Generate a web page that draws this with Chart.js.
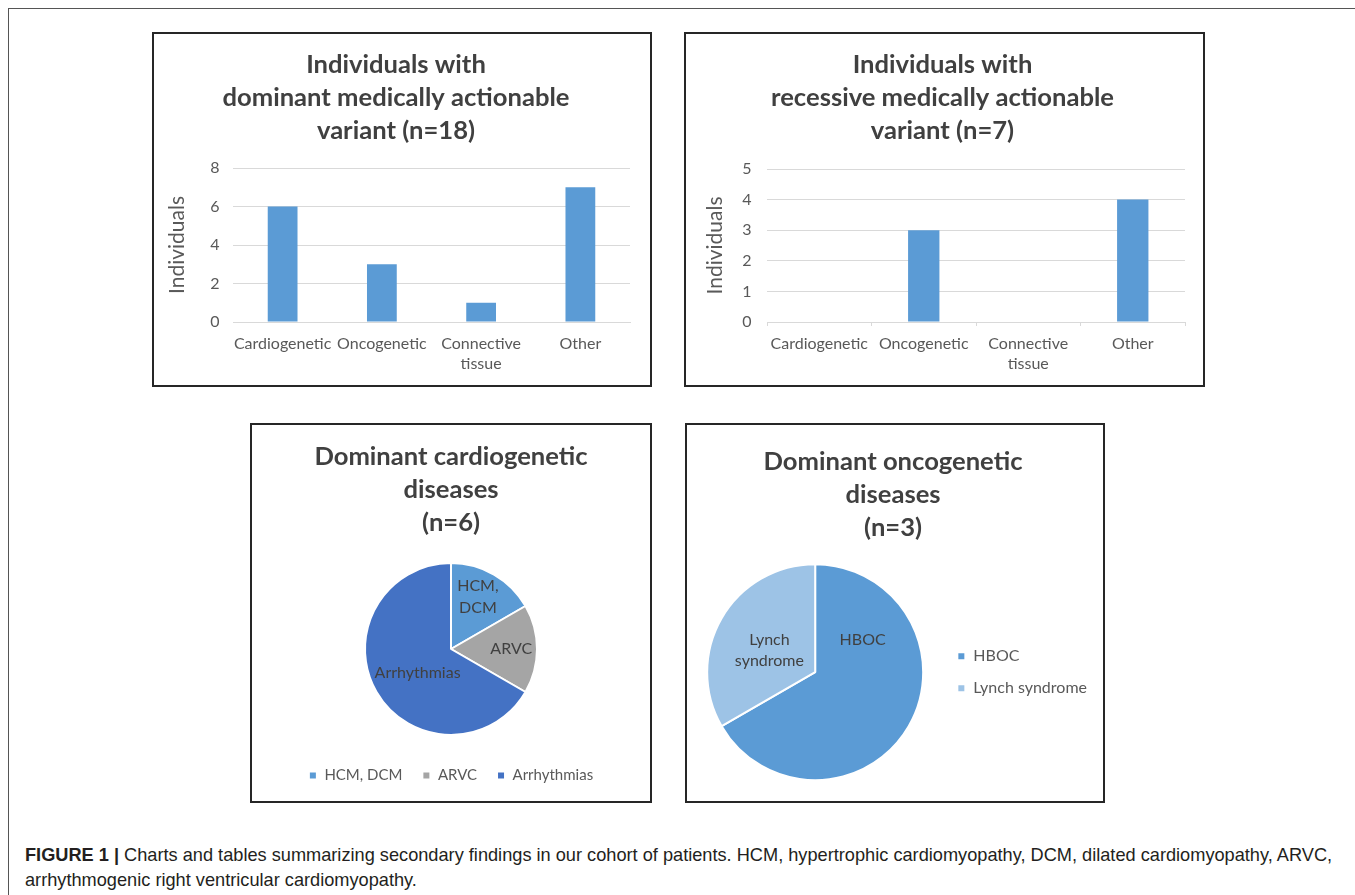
<!DOCTYPE html>
<html><head><meta charset="utf-8">
<script src="https://cdn.jsdelivr.net/npm/chart.js@4.4.1/dist/chart.umd.min.js"></script>
<style>
html,body{margin:0;padding:0;background:#fff;width:1355px;height:895px;overflow:hidden;}
#frame{position:absolute;left:8px;top:8px;width:1400px;height:950px;border-top:1px solid #555;border-left:1px solid #555;}
.panel{position:absolute;border:2px solid #262626;background:#fff;}
.panel canvas{display:block;}
#caption{position:absolute;left:25px;top:843px;font-family:"Liberation Sans",Arial,sans-serif;font-size:18.2px;line-height:25px;color:#231f20;white-space:nowrap;}
#caption b{font-weight:bold;}
</style></head><body>
<div id="frame"></div>
<div class="panel" style="left:152px;top:32px;width:496px;height:351px;"><canvas id="c1" width="496" height="351"></canvas></div>
<div class="panel" style="left:684px;top:32px;width:517px;height:351px;"><canvas id="c2" width="517" height="351"></canvas></div>
<div class="panel" style="left:250px;top:423px;width:398px;height:376px;"><canvas id="c3" width="398" height="376"></canvas></div>
<div class="panel" style="left:685px;top:423px;width:416px;height:376px;"><canvas id="c4" width="416" height="376"></canvas></div>
<div id="caption"><b>FIGURE 1 |</b> Charts and tables summarizing secondary findings in our cohort of patients. HCM, hypertrophic cardiomyopathy, DCM, dilated cardiomyopathy, ARVC,<br>arrhythmogenic right ventricular cardiomyopathy.</div>
<script>
// ---- data ----
const barCategories = [["Cardiogenetic"], ["Oncogenetic"], ["Connective", "tissue"], ["Other"]];
const dominantCounts = [6, 3, 1, 7];
const recessiveCounts = [0, 3, 0, 4];
const dominantYTicks = [0, 2, 4, 6, 8];
const recessiveYTicks = [0, 1, 2, 3, 4, 5];
const dominantTitle = ["Individuals with", "dominant medically actionable", "variant (n=18)"];
const recessiveTitle = ["Individuals with", "recessive medically actionable", "variant (n=7)"];
const yAxisTitle = "Individuals";

const cardioLabels = ["HCM, DCM", "ARVC", "Arrhythmias"];
const cardioCounts = [1, 1, 4];
const cardioSliceText = [["HCM,", "DCM"], ["ARVC"], ["Arrhythmias"]];
const cardioTitle = ["Dominant cardiogenetic", "diseases", "(n=6)"];

const oncoLabels = ["HBOC", "Lynch syndrome"];
const oncoCounts = [2, 1];
const oncoSliceText = [["HBOC"], ["Lynch", "syndrome"]];
const oncoTitle = ["Dominant oncogenetic", "diseases", "(n=3)"];

// ---- styling ----
const FONT = "Lato, 'Open Sans', sans-serif";
Chart.defaults.font.family = FONT;
Chart.defaults.animation = false;
const BLUE = "#5B9BD5", GREY = "#A5A5A5", DARKBLUE = "#4472C4", LIGHTBLUE = "#9DC3E6";
const TXT = "#595959", TITLE = "#404040", GRID = "#D9D9D9";
const TITLE_FONT = { size: 25.6, weight: "bold", lineHeight: 33 / 25.6 };

const sliceLabelPlugin = {
  id: "sliceLabels",
  afterDatasetsDraw(chart, args, opts) {
    if (!opts || !opts.text) return;
    const meta = chart.getDatasetMeta(0);
    const ctx = chart.ctx;
    ctx.save();
    ctx.font = opts.size + "px " + FONT;
    ctx.fillStyle = opts.color;
    ctx.textAlign = "center";
    ctx.textBaseline = "middle";
    meta.data.forEach((arc, i) => {
      const p = arc.getProps(["x", "y", "startAngle", "endAngle", "outerRadius"], true);
      const pl = opts.placement[i];
      const a = (p.startAngle + p.endAngle) / 2 + pl[0] * Math.PI / 180;
      const r = p.outerRadius * pl[1];
      const cx = p.x + Math.cos(a) * r, cy = p.y + Math.sin(a) * r;
      const lines = opts.text[i];
      lines.forEach((t, k) => ctx.fillText(t, cx, cy + (k - (lines.length - 1) / 2) * opts.lineHeight));
    });
    ctx.restore();
  }
};

function barChart(id, title, values, yTicks, cfg) {
  return new Chart(document.getElementById(id), {
    type: "bar",
    data: { labels: barCategories, datasets: [{ data: values, backgroundColor: BLUE, barPercentage: 0.3, categoryPercentage: 1 }] },
    options: {
      responsive: false,
      layout: { padding: cfg.layout },
      plugins: {
        legend: { display: false }, tooltip: { enabled: false },
        title: { display: true, text: title, color: TITLE, font: TITLE_FONT, padding: cfg.titlePad }
      },
      scales: {
        x: {
          grid: cfg.xGrid,
          border: { color: GRID },
          ticks: { color: TXT, font: { size: 16, lineHeight: 1.25 }, maxRotation: 0, autoSkip: false, padding: cfg.xTickPad },
          afterFit(scale) { scale.height = cfg.xHeight; }
        },
        y: {
          min: yTicks[0], max: yTicks[yTicks.length - 1],
          ticks: { stepSize: yTicks[1] - yTicks[0], color: TXT, font: { size: 16 }, padding: cfg.yTickPad },
          grid: { color: GRID, drawTicks: false, tickLength: 0 },
          border: { display: false },
          title: { display: true, text: yAxisTitle, color: TXT, font: { size: 21 }, padding: { top: 2.4, bottom: 4 } },
          afterFit(scale) { scale.width = cfg.yWidth; }
        }
      }
    }
  });
}

barChart("c1", dominantTitle, dominantCounts, dominantYTicks, {
  layout: { left: 8, right: 20, top: 0, bottom: 0 },
  titlePad: { top: 14.5, bottom: 20.5 },
  xGrid: { display: false, drawTicks: false, tickLength: 0 },
  xTickPad: 12, xHeight: 63,
  yTickPad: 13.5, yWidth: 71
});

barChart("c2", recessiveTitle, recessiveCounts, recessiveYTicks, {
  layout: { left: 14, right: 18, top: 0, bottom: 0 },
  titlePad: { top: 14.5, bottom: 21.5 },
  xGrid: { display: true, drawOnChartArea: false, drawTicks: true, tickLength: 4, offset: true, color: GRID },
  xTickPad: 8, xHeight: 63,
  yTickPad: 15.5, yWidth: 67
});

new Chart(document.getElementById("c3"), {
  type: "pie",
  data: { labels: cardioLabels, datasets: [{ data: cardioCounts, backgroundColor: [BLUE, GREY, DARKBLUE], borderColor: "#fff", borderWidth: 2, radius: 86 }] },
  options: {
    responsive: false,
    layout: { padding: { left: 0, right: 0, top: 0, bottom: 8 } },
    plugins: {
      tooltip: { enabled: false },
      title: { display: true, text: cardioTitle, color: TITLE, font: TITLE_FONT, padding: { top: 15.5, bottom: 10.5 } },
      legend: { position: "bottom", labels: { color: TXT, font: { size: 15 }, boxWidth: 8, boxHeight: 8, padding: 20 } },
      sliceLabels: { text: cardioSliceText, placement: [[-2.6, 0.68], [0, 0.70], [-6, 0.48]], size: 16, lineHeight: 22, color: TITLE }
    }
  },
  plugins: [sliceLabelPlugin]
});

new Chart(document.getElementById("c4"), {
  type: "pie",
  data: { labels: oncoLabels, datasets: [{ data: oncoCounts, backgroundColor: [BLUE, LIGHTBLUE], borderColor: "#fff", borderWidth: 2, radius: 108 }] },
  options: {
    responsive: false,
    layout: { padding: { left: 2, right: 6, top: 0, bottom: 12 } },
    plugins: {
      tooltip: { enabled: false },
      title: { display: true, text: oncoTitle, color: TITLE, font: TITLE_FONT, padding: { top: 20.5, bottom: 10.8 } },
      legend: { position: "right", fullSize: false, labels: { color: TXT, font: { size: 16 }, boxWidth: 8, boxHeight: 8, padding: 16 } },
      sliceLabels: { text: oncoSliceText, placement: [[-64, 0.53], [-4.4, 0.47]], size: 16, lineHeight: 21, color: TITLE }
    }
  },
  plugins: [sliceLabelPlugin]
});
</script>
</body></html>
